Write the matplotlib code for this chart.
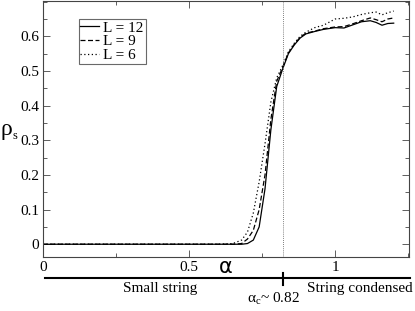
import matplotlib
matplotlib.use('Agg')
import matplotlib.pyplot as plt
from matplotlib.lines import Line2D
from matplotlib.ticker import MultipleLocator

plt.rcParams['font.family'] = 'Liberation Serif'
plt.rcParams['mathtext.fontset'] = 'custom'
plt.rcParams['mathtext.rm'] = 'Liberation Serif'

# alpha grid and rho_s for each lattice size
alpha = [0, 0.6, 0.65, 0.68, 0.70, 0.72, 0.74, 0.76, 0.78, 0.80, 0.82, 0.84,
         0.86, 0.88, 0.90, 0.93, 0.96, 1.0, 1.03, 1.06, 1.09, 1.12, 1.14,
         1.16, 1.18, 1.2]
rho_L12 = [0, 0, 0, 0, 0.002, 0.012, 0.05, 0.16, 0.33, 0.455, 0.505, 0.55,
           0.575, 0.595, 0.607, 0.614, 0.62, 0.625, 0.624, 0.633, 0.642,
           0.645, 0.64, 0.632, 0.637, 0.638]
rho_L9 = [0, 0, 0, 0.002, 0.015, 0.04, 0.10, 0.20, 0.36, 0.47, 0.51, 0.552,
          0.577, 0.597, 0.609, 0.615, 0.622, 0.627, 0.628, 0.636, 0.645,
          0.653, 0.648, 0.642, 0.65, 0.653]
rho_L6 = [0, 0, 0.002, 0.012, 0.035, 0.09, 0.18, 0.29, 0.41, 0.48, 0.515,
          0.555, 0.58, 0.6, 0.612, 0.625, 0.632, 0.65, 0.652, 0.656, 0.663,
          0.668, 0.67, 0.662, 0.668, 0.673]
alpha_c = 0.82

fig = plt.figure(figsize=(4.15, 3.11), dpi=100)
ax = fig.add_axes([0.103, 0.174, 0.883, 0.824])

ax.plot(alpha, rho_L12, color='black', lw=0.9, ls='-', label='L = 12')
ax.plot(alpha, rho_L9, color='black', lw=0.9, ls=(0, (4, 2)), label='L = 9')
ax.plot(alpha, rho_L6, color='black', lw=0.9, ls=(0, (1, 2)), label='L = 6')
ax.axvline(alpha_c, color='#555555', lw=0.6, ls=(0, (1, 1.5)))

ax.set_xlim(0, 1.253)
ax.set_ylim(-0.0365, 0.703)
ax.xaxis.set_minor_locator(MultipleLocator(0.25))
ax.yaxis.set_minor_locator(MultipleLocator(0.05))
ax.set_xticks([0, 0.5, 1])
ax.set_xticklabels(['0', '0.5', '1'])
ax.set_yticks([0, 0.1, 0.2, 0.3, 0.4, 0.5, 0.6])
ax.set_yticklabels(['0', '0.1', '0.2', '0.3', '0.4', '0.5', '0.6'])
ax.tick_params(which='both', direction='in', top=True, right=True,
               labelsize=11, width=0.6, color='#444444')
ax.tick_params(which='major', length=5)
ax.tick_params(which='minor', length=3)
ax.tick_params(axis='y', pad=2.5)
ax.tick_params(axis='x', pad=3)
for s in ax.spines.values():
    s.set_linewidth(0.8)
    s.set_color('#444444')

leg = ax.legend(loc='upper left', bbox_to_anchor=(0.098, 0.928), fontsize=11,
                frameon=True, fancybox=False, handlelength=1.2,
                handletextpad=0.3, borderpad=0.12, labelspacing=0.0,
                borderaxespad=0)
leg.get_frame().set_edgecolor('#444444')
leg.get_frame().set_linewidth(0.8)

fig.text(0.543, 0.141, 'α', fontsize=15, ha='center', va='center',
         family='DejaVu Sans')
fig.text(0.016, 0.585, 'ρ', fontsize=17, ha='center', va='center')
fig.text(0.037, 0.563, 's', fontsize=9, ha='center', va='center')

# phase axis below the plot
fig.add_artist(Line2D([0.108, 0.988], [0.106, 0.106], color='black', lw=1.5))
fig.add_artist(Line2D([0.683, 0.683], [0.084, 0.122], color='black', lw=1.5))
fig.text(0.386, 0.072, 'Small string', fontsize=11, ha='center', va='center')
fig.text(0.867, 0.072, 'String condensed', fontsize=11, ha='center',
         va='center')
fig.text(0.658, 0.040, '$\\mathregular{α_c}$~ 0.82', fontsize=11,
         ha='center', va='center')

fig.savefig('out.png', dpi=100)
